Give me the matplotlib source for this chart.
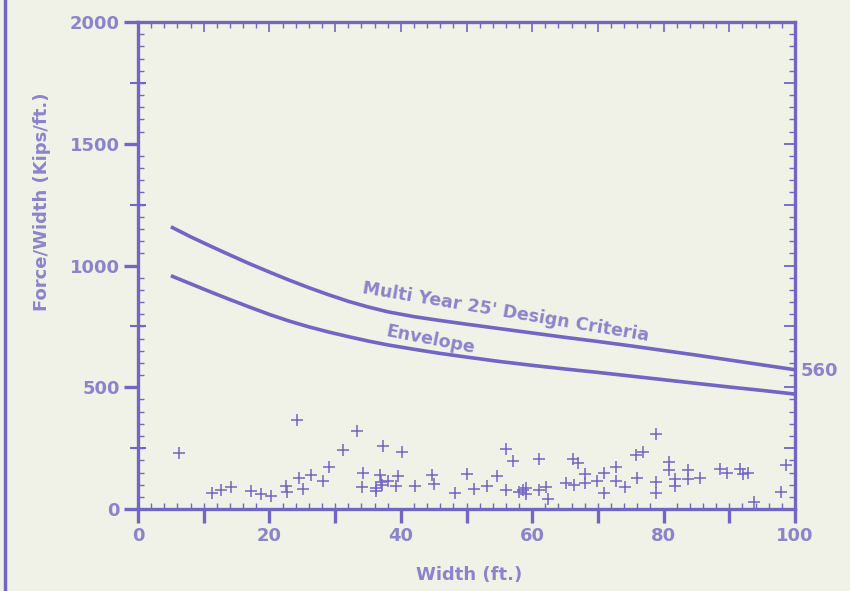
import numpy as np
import matplotlib.pyplot as plt
from matplotlib.ticker import MultipleLocator, FixedLocator, NullFormatter

plt.rcParams['font.family'] = ['DejaVu Sans']
plt.rcParams['font.weight'] = 'bold'

# design criteria curve
crit_x = [5, 8, 11, 14, 17, 20, 23, 26, 29, 32, 35, 38, 42, 46, 50, 55, 60,
          65, 70, 75, 80, 85, 90, 95, 100]
crit_y = [1159, 1118, 1080, 1043, 1007, 973, 940, 909, 880, 853, 830, 810, 790,
          774, 759, 741, 723, 705, 688, 670, 651, 632, 612, 592, 572]
# envelope curve
env_x = [5, 8, 11, 14, 17, 20, 23, 26, 29, 32, 35, 38, 42, 46, 50, 55, 60,
         65, 70, 75, 80, 85, 90, 95, 100]
env_y = [958, 925, 892, 860, 829, 799, 772, 748, 727, 708, 690, 674, 656, 639,
         624, 606, 590, 575, 561, 546, 531, 516, 501, 487, 472]

# measured points
pts_x = [6.2, 24.2, 11.2, 12.7, 14.2, 17.2, 18.7, 20.2, 22.5, 22.6, 24.5, 25.1,
         33.3, 31.2, 37.3, 40.2, 29.0, 26.3, 28.2, 34.3, 34.1, 36.8, 37.0, 38.1,
         37.2, 36.2, 36.2, 39.5, 39.2, 42.2, 44.8, 45.1, 48.2,
         50.1, 51.1, 53.1, 54.6, 56.0, 57.0, 56.0, 58.0, 58.6, 59.0, 59.1, 61.0,
         61.1, 62.1, 62.4, 65.1, 66.4, 66.2, 66.9, 68.0, 68.0, 69.8, 70.9, 70.9,
         72.8, 72.8, 74.1,
         78.8, 75.8, 76.8, 75.9, 78.8, 78.8, 80.8, 80.8, 81.7, 81.7, 83.7, 83.7,
         85.6, 88.6, 89.7, 91.6, 92.1, 92.8, 93.8, 98.6, 97.9]
pts_y = [231, 366, 67, 78, 92, 74, 60, 55, 94, 68, 129, 82,
         320, 241, 257, 235, 172, 140, 115, 149, 89, 140, 112, 115,
         99, 85, 74, 136, 94, 94, 140, 101, 64,
         144, 82, 94, 136, 245, 197, 78, 69, 78, 87, 60, 205,
         78, 92, 40, 105, 99, 204, 188, 142, 105, 115, 147, 67,
         174, 115, 92,
         308, 222, 235, 129, 110, 64, 192, 160, 123, 94, 160, 123,
         129, 163, 149, 163, 144, 147, 30, 181, 69]

ink = '#7165C6'
txt = '#8B84CC'
bg = '#F1F2E7'

fig = plt.figure(figsize=(8.5, 5.91), dpi=100, facecolor=bg)
ax = fig.add_axes([0.1624, 0.1387, 0.7729, 0.8241], facecolor=bg)

ax.plot(crit_x, crit_y, color=ink, lw=2.6, solid_capstyle='butt')
ax.plot(env_x, env_y, color=ink, lw=2.6, solid_capstyle='butt')
ax.plot(pts_x, pts_y, '+', color=ink, ms=8, mew=1.1, ls='none', clip_on=False)

ax.set_xlim(0, 100)
ax.set_ylim(0, 2000)
for s in ax.spines.values():
    s.set_color(ink)
    s.set_linewidth(2.4)

# main ticks
ax.xaxis.set_major_locator(MultipleLocator(20))
ax.xaxis.set_minor_locator(MultipleLocator(2))
ax.yaxis.set_major_locator(MultipleLocator(500))
ax.yaxis.set_minor_locator(MultipleLocator(50))
ax.tick_params(which='major', direction='out', length=10, width=2.4, color=ink,
               labelcolor=txt, labelsize=13, pad=3)
ax.tick_params(which='minor', direction='in', length=4, width=1, color=ink)

# medium ticks left/bottom
sl = ax.secondary_yaxis('left')
sl.yaxis.set_major_locator(FixedLocator([250, 750, 1250, 1750]))
sl.yaxis.set_major_formatter(NullFormatter())
sl.tick_params(direction='inout', length=12, width=1.5, color=ink)
sl.spines['left'].set_visible(False)

sb = ax.secondary_xaxis('bottom')
sb.xaxis.set_major_locator(FixedLocator([10, 30, 50, 70, 90]))
sb.xaxis.set_major_formatter(NullFormatter())
sb.tick_params(direction='out', length=10, width=2.4, color=ink)
sb.spines['bottom'].set_visible(False)

# right and top spine ticks
sr = ax.secondary_yaxis('right')
sr.yaxis.set_major_locator(MultipleLocator(250))
sr.yaxis.set_minor_locator(MultipleLocator(50))
sr.yaxis.set_major_formatter(NullFormatter())
sr.tick_params(which='major', direction='in', length=8, width=1.3, color=ink)
sr.tick_params(which='minor', direction='in', length=4, width=1, color=ink)
sr.spines['right'].set_visible(False)

st = ax.secondary_xaxis('top')
st.xaxis.set_major_locator(MultipleLocator(10))
st.xaxis.set_minor_locator(MultipleLocator(2))
st.xaxis.set_major_formatter(NullFormatter())
st.tick_params(which='major', direction='in', length=7, width=1.2, color=ink)
st.tick_params(which='minor', direction='in', length=4, width=1, color=ink)
st.spines['top'].set_visible(False)

ax.text(56, 808, "Multi Year 25' Design Criteria", rotation=-9.5, color=txt,
        fontsize=12.6, ha='center', va='center', rotation_mode='anchor')
ax.text(44.5, 697, 'Envelope', rotation=-11, color=txt,
        fontsize=12.6, ha='center', va='center', rotation_mode='anchor')
ax.text(100.8, 568, '560', color=txt, fontsize=13, ha='left', va='center',
        clip_on=False)

fig.text(0.049, 1 - 202 / 591, 'Force/Width (Kips/ft.)', rotation=90, color=txt,
         fontsize=13, ha='center', va='center')
fig.text(469 / 850, 1 - 575 / 591, 'Width (ft.)', color=txt, fontsize=13,
         ha='center', va='center')

# frame edge on the left of the page
fig.add_artist(plt.Line2D([5 / 850, 5 / 850], [0, 1], color=ink, lw=2.5,
                          transform=fig.transFigure))

fig.savefig('out.png', dpi=100, facecolor=bg)
